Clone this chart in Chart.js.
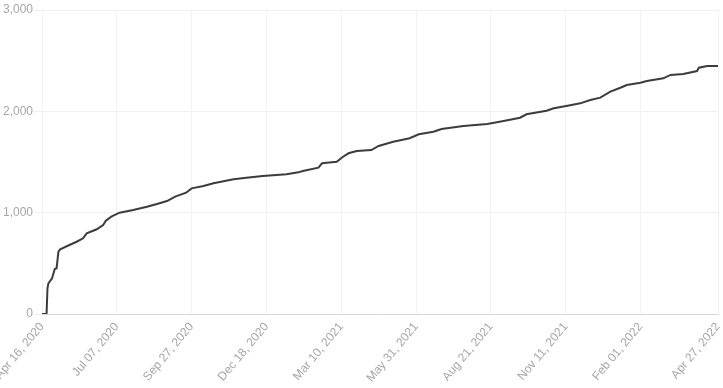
<!DOCTYPE html>
<html>
<head>
<meta charset="utf-8">
<script src="https://cdn.jsdelivr.net/npm/chart.js@4/dist/chart.umd.min.js"></script>
<style>
  html, body { margin: 0; padding: 0; background: #ffffff; }
  #chartBox { width: 723px; height: 388px; }
</style>
</head>
<body>
<div id="chartBox"><canvas id="totalChart"></canvas></div>
<script>
// First day of the series, every x value below is days after it
const START_DATE = Date.UTC(2020, 3, 16);

// Days since Apr 16, 2020
const DAY_LIST = [
  0, 5, 6, 7, 11, 14, 16, 18, 20, 30, 38, 45, 49, 60, 67, 70, 76, 85,
  100, 115, 126, 137, 146, 158, 164, 177, 188, 210, 224, 242, 268, 281,
  286, 303, 307, 323, 330, 336, 345, 361, 369, 385, 403, 413, 429, 438,
  462, 488, 506, 524, 531, 553, 561, 579, 590, 601, 612, 623, 634, 641,
  656, 663, 681, 689, 703, 718, 720, 729, 741
];

// Running total on each of those days
const TOTAL_LIST = [
  0, 0, 254, 303, 352, 444, 451, 615, 638, 681, 713, 747, 796, 836, 878, 921, 960, 1000,
  1026, 1059, 1086, 1115, 1158, 1197, 1240, 1263, 1290, 1329, 1345, 1362, 1379, 1398,
  1411, 1444, 1487, 1503, 1552, 1586, 1609, 1618, 1658, 1700, 1734, 1773, 1799, 1826,
  1855, 1875, 1905, 1937, 1971, 2006, 2030, 2060, 2079, 2112, 2135, 2194, 2233, 2260,
  2283, 2299, 2326, 2359, 2368, 2398, 2431, 2447, 2447
];

// Days that carry an x tick label
const TICK_DAY_LIST = [0, 82, 164, 246, 328, 410, 492, 574, 656, 741];

const MONTH_NAMES = ["Jan", "Feb", "Mar", "Apr", "May", "Jun", "Jul", "Aug", "Sep", "Oct", "Nov", "Dec"];

/**
 * Turn a day offset into a label like "Apr 16, 2020".
 */
function dayToLabel(dayCount) {
  const d = new Date(START_DATE + dayCount * 86400000);
  const dayStr = String(d.getUTCDate()).padStart(2, "0");
  return MONTH_NAMES[d.getUTCMonth()] + " " + dayStr + ", " + d.getUTCFullYear();
}

const POINT_LIST = DAY_LIST.map((day, i) => ({ x: day, y: TOTAL_LIST[i] }));

const TICK_FONT = { family: "'Liberation Sans', Arial, sans-serif", size: 12 };

new Chart(document.getElementById("totalChart").getContext("2d"), {
  type: "line",
  data: {
    datasets: [{
      data: POINT_LIST,
      borderColor: "#3c3c3c",
      borderWidth: 2,
      pointRadius: 0,
      tension: 0,
      fill: false
    }]
  },
  options: {
    responsive: true,
    maintainAspectRatio: false,
    animation: false,
    layout: { padding: 0 },
    plugins: {
      legend: { display: false },
      tooltip: { enabled: false }
    },
    scales: {
      x: {
        type: "linear",
        min: 0,
        max: 741,
        afterBuildTicks: (scale) => {
          scale.ticks = TICK_DAY_LIST.map((day) => ({ value: day }));
        },
        afterFit: (scale) => {
          // Keep the plot area where the original sits
          scale.paddingLeft = 0;
          scale.paddingRight = 5;
          scale.height = 74;
        },
        ticks: {
          autoSkip: false,
          minRotation: 50,
          maxRotation: 50,
          padding: 6,
          color: "#a6a6a6",
          font: TICK_FONT,
          callback: (value) => dayToLabel(value)
        },
        grid: { color: "#f2f2f2", drawTicks: false },
        border: { color: "#d8d8d8" }
      },
      y: {
        min: 0,
        max: 3000,
        afterFit: (scale) => {
          scale.width = 42;
          scale.paddingTop = 10;
        },
        ticks: {
          stepSize: 1000,
          padding: 1,
          color: "#a6a6a6",
          font: TICK_FONT
        },
        grid: { color: "#f0f0f0", drawTicks: true, tickLength: 8 },
        border: { display: false }
      }
    }
  }
});
</script>
</body>
</html>
